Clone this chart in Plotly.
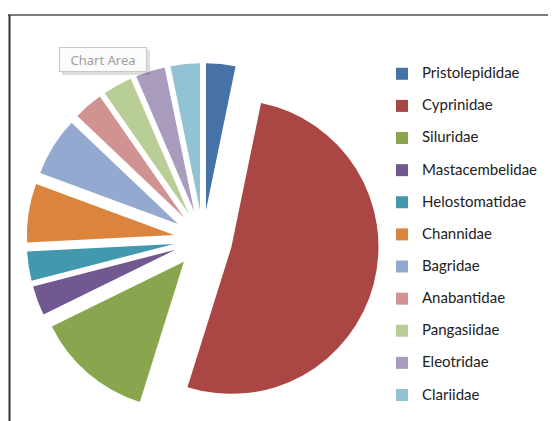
import plotly.graph_objects as go

labels = ["Pristolepididae", "Cyprinidae", "Siluridae", "Mastacembelidae",
          "Helostomatidae", "Channidae", "Bagridae", "Anabantidae",
          "Pangasiidae", "Eleotridae", "Clariidae"]
values = [1, 16, 4, 1, 1, 2, 2, 1, 1, 1, 1]
colors = ["#4572A7", "#AA4643", "#89A54E", "#71588F", "#4198AF", "#DB843D",
          "#93A9CF", "#D19392", "#B9CD96", "#A99BBD", "#92C3D4"]

# page body has an 8px margin, so the figure is 8px smaller than the window
W, H = 548, 413
cx, cy, r, pull = 195, 231.5, 147, 0.2
half = r * (1 + pull)

legend_labels = []
for i, l in enumerate(labels):
    t = '<span style="font-size:15px">' + l + '</span>'
    if i < len(labels) - 1:
        t += "<br>"
    legend_labels.append(t)

fig = go.Figure(go.Pie(
    labels=legend_labels,
    values=values,
    marker=dict(colors=colors, line=dict(width=0)),
    sort=False,
    direction="clockwise",
    rotation=0,
    pull=[pull] * len(values),
    textinfo="none",
    hoverinfo="value",
    domain=dict(x=[(cx - half) / W, (cx + half) / W],
                y=[(H - cy - half) / H, (H - cy + half) / H]),
))

fig.update_layout(
    width=W, height=H,
    margin=dict(l=0, r=0, t=0, b=0),
    paper_bgcolor="white",
    font=dict(family="Lato, Open Sans, sans-serif", color="#222"),
    showlegend=True,
    legend=dict(x=374 / W, y=1 - 52 / H, xanchor="left", yanchor="top",
                font=dict(size=11.2, color="#222"), valign="top",
                bgcolor="rgba(0,0,0,0)", traceorder="normal"),
    shapes=[
        dict(type="line", xref="paper", yref="paper", x0=0, x1=1.01,
             y0=1 - 7 / H, y1=1 - 7 / H, line=dict(color="#7a7a7a", width=2)),
        dict(type="line", xref="paper", yref="paper", x0=1.5 / W, x1=1.5 / W,
             y0=-0.01, y1=1 - 7 / H, line=dict(color="#333333", width=2)),
        dict(type="rect", xref="paper", yref="paper", x0=54 / W, x1=142 / W,
             y0=1 - 67 / H, y1=1 - 42 / H, line=dict(width=0),
             fillcolor="rgba(0,0,0,0.13)", layer="above"),
    ],
    annotations=[
        dict(text="Chart Area", xref="paper", yref="paper", x=95 / W, y=1 - 51.5 / H,
             showarrow=False, font=dict(family="Noto Sans, sans-serif", size=13, color="#a0a0a0"),
             width=82, height=19, bgcolor="#fbfbfb", bordercolor="#c8c8c8",
             borderwidth=1, borderpad=2, xanchor="center", yanchor="middle"),
    ],
)

fig.write_html("out.html")
